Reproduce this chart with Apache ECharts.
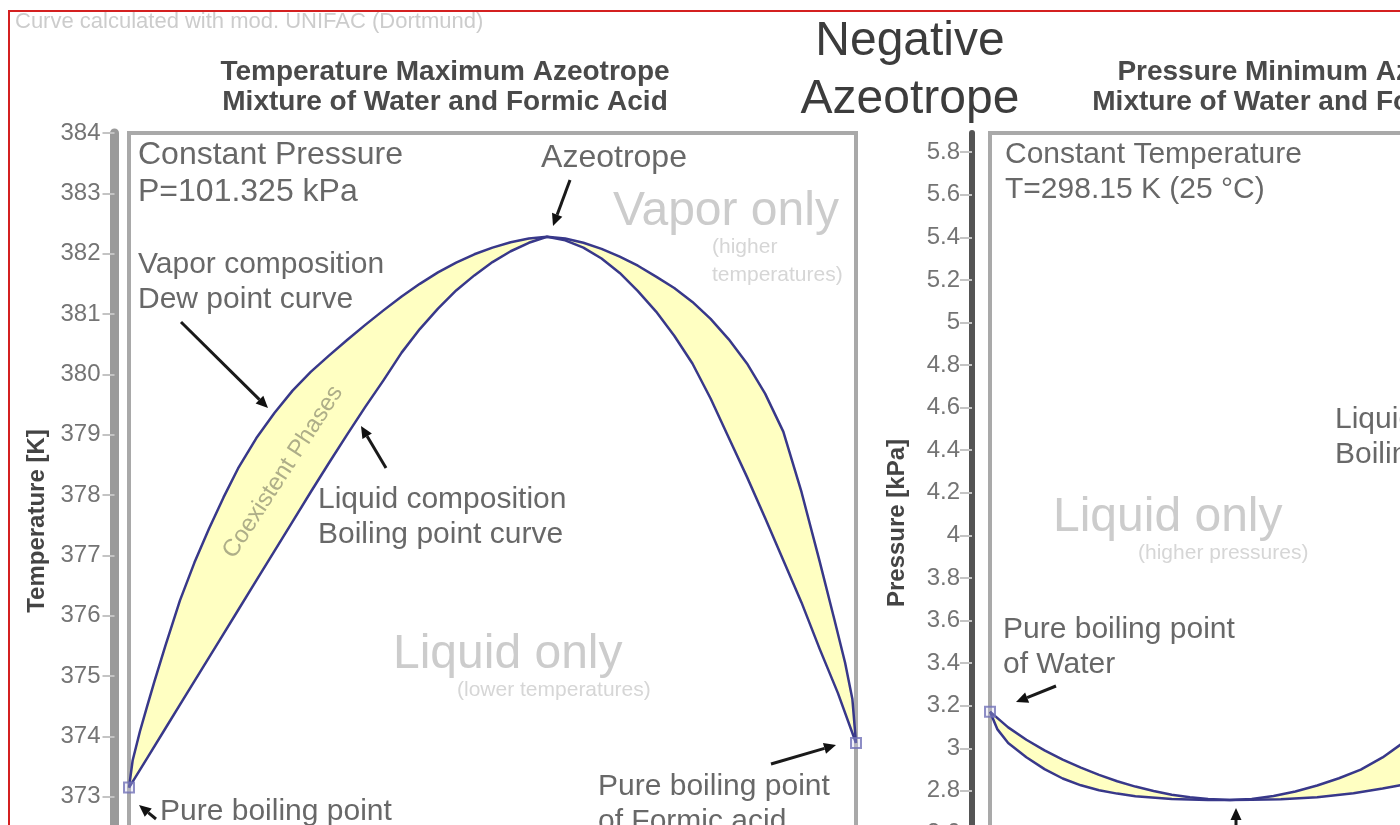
<!DOCTYPE html>
<html>
<head>
<meta charset="utf-8">
<title>Negative Azeotrope</title>
<script src="https://cdn.jsdelivr.net/npm/echarts@6/dist/echarts.min.js"></script>
<style>
  html, body { margin: 0; padding: 0; overflow: hidden; background: #ffffff; }
  #chart { width: 1800px; height: 960px; }
</style>
</head>
<body>
<div id="chart"></div>
<script>
// ---- Data -------------------------------------------------------------
// x = mole fraction of formic acid in the mixture

// Constant pressure (101.325 kPa): temperature in K
const tDewCurve = [
  [0, 373.15], [0.005, 373.60], [0.015, 374.08], [0.025, 374.50], [0.035, 374.91],
  [0.05, 375.50], [0.07, 376.25], [0.09, 376.88], [0.11, 377.44], [0.13, 377.96],
  [0.15, 378.44], [0.175, 378.94], [0.2, 379.36], [0.225, 379.73], [0.25, 380.04],
  [0.275, 380.31], [0.3, 380.57], [0.325, 380.82], [0.35, 381.06], [0.375, 381.29],
  [0.4, 381.50], [0.425, 381.69], [0.45, 381.85], [0.475, 381.99], [0.5, 382.10],
  [0.525, 382.19], [0.55, 382.25], [0.575, 382.28], [0.6, 382.25], [0.625, 382.18],
  [0.65, 382.08], [0.675, 381.95], [0.7, 381.80], [0.725, 381.62], [0.75, 381.43],
  [0.775, 381.20], [0.8, 380.92], [0.825, 380.58], [0.85, 380.18], [0.875, 379.68],
  [0.9, 379.05], [0.925, 378.05], [0.95, 376.90], [0.97, 375.95], [0.985, 375.22],
  [0.995, 374.62], [1, 373.89]
];
const tBubbleCurve = [
  [0, 373.15], [0.025, 373.64], [0.05, 374.13], [0.075, 374.62], [0.1, 375.11],
  [0.125, 375.60], [0.15, 376.09], [0.175, 376.58], [0.2, 377.07], [0.225, 377.56],
  [0.25, 378.05], [0.275, 378.53], [0.3, 379.00], [0.325, 379.46], [0.35, 379.90],
  [0.375, 380.36], [0.4, 380.75], [0.425, 381.09], [0.45, 381.39], [0.475, 381.64],
  [0.5, 381.86], [0.525, 382.04], [0.55, 382.18], [0.575, 382.28], [0.6, 382.22],
  [0.625, 382.10], [0.65, 381.92], [0.675, 381.68], [0.7, 381.38], [0.725, 381.04],
  [0.75, 380.64], [0.775, 380.18], [0.8, 379.60], [0.825, 378.95], [0.85, 378.30],
  [0.875, 377.62], [0.9, 376.92], [0.925, 376.22], [0.95, 375.45], [0.975, 374.72],
  [1, 373.89]
];

// Constant temperature (298.15 K): pressure in kPa
const pBubbleCurve = [
  [0, 3.172], [0.025, 3.098], [0.05, 3.040], [0.075, 2.990], [0.1, 2.947],
  [0.125, 2.909], [0.15, 2.875], [0.175, 2.845], [0.2, 2.820], [0.225, 2.799],
  [0.25, 2.782], [0.275, 2.770], [0.3, 2.762], [0.33, 2.757], [0.36, 2.762],
  [0.39, 2.776], [0.42, 2.797], [0.45, 2.825], [0.48, 2.859], [0.51, 2.900],
  [0.54, 2.957], [0.57, 3.030], [0.6, 3.11], [0.65, 3.28], [0.7, 3.48],
  [0.75, 3.72], [0.8, 4.00], [0.85, 4.32], [0.9, 4.70], [0.95, 5.15], [1, 5.70]
];
const pDewCurve = [
  [0, 3.172], [0.01, 3.090], [0.025, 3.025], [0.05, 2.958], [0.075, 2.902],
  [0.1, 2.858], [0.125, 2.826], [0.15, 2.803], [0.175, 2.787], [0.2, 2.775],
  [0.25, 2.762], [0.3, 2.757], [0.33, 2.757], [0.36, 2.758], [0.4, 2.761],
  [0.45, 2.770], [0.5, 2.789], [0.54, 2.811], [0.57, 2.830], [0.6, 2.850],
  [0.65, 2.900], [0.7, 2.970], [0.75, 3.070], [0.8, 3.220], [0.85, 3.450],
  [0.9, 3.820], [0.95, 4.450], [1, 5.700]
];

// Axis ranges
const tAxisRange = [372, 384, 1];      // min, max, tick step (K)
const pAxisRange = [2.4, 5.89, 0.2];   // min, max, tick step (kPa)
const xAxisRange = [0, 1, 0.1];

// ---- Styling ----------------------------------------------------------
const FONT = '"Liberation Sans", Arial, Helvetica, sans-serif';
const CURVE = '#38388a';
const BAND = '#ffffc2';
const NOTE = '#686868';
const FAINT = '#cccccc';
const FAINTER = '#d6d6d6';

function txt(x, y, text, size, fill, extra) {
  const e = extra || {};
  return {
    type: 'text', x: x, y: y, rotation: e.rotation || 0, z: e.z || 50, silent: true,
    style: {
      text: text, fontSize: size, fontFamily: FONT, fontWeight: e.weight || 'normal',
      fill: fill, align: e.align || 'left', verticalAlign: 'middle'
    }
  };
}

function arrow(x1, y1, x2, y2) {
  const a = Math.atan2(y2 - y1, x2 - x1), L = 12, W = 5.5;
  const bx = x2 - L * Math.cos(a), by = y2 - L * Math.sin(a);
  return [
    { type: 'line', z: 60, silent: true, shape: { x1: x1, y1: y1, x2: bx, y2: by },
      style: { stroke: '#1a1a1a', lineWidth: 3 } },
    { type: 'polygon', z: 60, silent: true,
      shape: { points: [[x2, y2], [bx + W * Math.sin(a), by - W * Math.cos(a)], [bx - W * Math.sin(a), by + W * Math.cos(a)]] },
      style: { fill: '#111111' } }
  ];
}

function band(upper, lower, idx) {
  return {
    type: 'custom', xAxisIndex: idx, yAxisIndex: idx, z: 1, silent: true,
    data: [upper[0]],
    renderItem: function (params, api) {
      const pts = upper.map(function (p) { return api.coord(p); })
        .concat(lower.slice().reverse().map(function (p) { return api.coord(p); }));
      return { type: 'polygon', shape: { points: pts }, style: { fill: BAND, stroke: null } };
    }
  };
}

function curve(data, idx) {
  return {
    type: 'line', xAxisIndex: idx, yAxisIndex: idx, data: data, showSymbol: false,
    smooth: false, silent: true, z: 3,
    lineStyle: { color: CURVE, width: 2.5, join: 'round' }
  };
}

function endpoints(points, idx) {
  return {
    type: 'scatter', xAxisIndex: idx, yAxisIndex: idx, data: points, symbol: 'rect',
    symbolSize: 10, silent: true, z: 4,
    itemStyle: { color: 'rgba(210,210,240,0.35)', borderColor: '#7272b8', borderWidth: 2 }
  };
}

function yAxis(idx, range, offset, lineColor, lineWidth, margin) {
  return {
    type: 'value', gridIndex: idx, min: range[0], max: range[1], interval: range[2],
    offset: offset,
    axisLine: { show: true, onZero: false, lineStyle: { color: lineColor, width: lineWidth } },
    axisTick: { show: true, length: 12, lineStyle: { color: '#c4c4c4', width: 2 } },
    axisLabel: { margin: margin, fontSize: 24, color: '#747474', fontFamily: FONT, showMaxLabel: idx === 0 },
    splitLine: { show: false }
  };
}

function xAxis(idx) {
  return {
    type: 'value', gridIndex: idx, min: xAxisRange[0], max: xAxisRange[1], interval: xAxisRange[2],
    axisLine: { show: true, onZero: false, lineStyle: { color: '#999999', width: 8 } },
    axisTick: { show: true, lineStyle: { color: '#c4c4c4' } },
    axisLabel: { fontSize: 24, color: '#747474', fontFamily: FONT },
    splitLine: { show: false }
  };
}

// ---- Annotations --------------------------------------------------------
const graphics = [
  txt(15, 22, 'Curve calculated with mod. UNIFAC (Dortmund)', 22, FAINT),
  txt(910, 42, 'Negative', 48, '#3c3c3c', { align: 'center' }),
  txt(910, 100, 'Azeotrope', 48, '#3c3c3c', { align: 'center' }),
  txt(445, 72, 'Temperature Maximum Azeotrope', 28, '#4a4a4a', { align: 'center', weight: 'bold' }),
  txt(445, 102, 'Mixture of Water and Formic Acid', 28, '#4a4a4a', { align: 'center', weight: 'bold' }),
  txt(1315, 72, 'Pressure Minimum Azeotrope', 28, '#4a4a4a', { align: 'center', weight: 'bold' }),
  txt(1315, 102, 'Mixture of Water and Formic Acid', 28, '#4a4a4a', { align: 'center', weight: 'bold' }),
  txt(37, 521, 'Temperature [K]', 24, '#444444', { align: 'center', weight: 'bold', rotation: Math.PI / 2 }),
  txt(897, 523, 'Pressure [kPa]', 24, '#444444', { align: 'center', weight: 'bold', rotation: Math.PI / 2 }),

  // temperature diagram
  txt(138, 155, 'Constant Pressure', 32, NOTE),
  txt(138, 192, 'P=101.325 kPa', 32, NOTE),
  txt(138, 265, 'Vapor composition', 30, NOTE),
  txt(138, 300, 'Dew point curve', 30, NOTE),
  txt(614, 158, 'Azeotrope', 32, NOTE, { align: 'center' }),
  txt(613, 212, 'Vapor only', 48, FAINT),
  txt(712, 247, '(higher', 21, FAINTER),
  txt(712, 275, 'temperatures)', 21, FAINTER),
  txt(318, 500, 'Liquid composition', 30, NOTE),
  txt(318, 535, 'Boiling point curve', 30, NOTE),
  txt(393, 655, 'Liquid only', 48, FAINT),
  txt(457, 690, '(lower temperatures)', 21, FAINTER),
  txt(160, 812, 'Pure boiling point', 30, NOTE),
  txt(160, 847, 'of Water', 30, NOTE),
  txt(598, 787, 'Pure boiling point', 30, NOTE),
  txt(598, 822, 'of Formic acid', 30, NOTE),
  txt(283, 472, 'Coexistent Phases', 24, '#aeae88', { align: 'center', rotation: 57 * Math.PI / 180, z: 55 }),

  // pressure diagram
  txt(1005, 155, 'Constant Temperature', 30, NOTE),
  txt(1005, 190, 'T=298.15 K (25 °C)', 30, NOTE),
  txt(1335, 420, 'Liquid composition', 30, NOTE),
  txt(1335, 455, 'Boiling point curve', 30, NOTE),
  txt(1053, 518, 'Liquid only', 48, FAINT),
  txt(1138, 553, '(higher pressures)', 21, FAINTER),
  txt(1003, 630, 'Pure boiling point', 30, NOTE),
  txt(1003, 665, 'of Water', 30, NOTE),

  // outer frame
  { type: 'rect', z: 100, silent: true, shape: { x: 9, y: 11, width: 1900, height: 1100 },
    style: { fill: null, stroke: '#d42020', lineWidth: 2 } }
].concat(
  arrow(181, 322, 268, 408),
  arrow(386, 468, 361, 426),
  arrow(570, 180, 553, 226),
  arrow(156, 819, 139, 805),
  arrow(771, 764, 836, 745),
  arrow(1056, 686, 1016, 702),
  arrow(1236, 845, 1236, 808)
);

// ---- Chart ------------------------------------------------------------
const chart = echarts.init(document.getElementById('chart'), null, { renderer: 'canvas' });
chart.setOption({
  animation: false,
  backgroundColor: '#ffffff',
  textStyle: { fontFamily: FONT },
  grid: [
    { left: 129, top: 133, width: 727, height: 724, show: true, borderColor: '#a9a9a9', borderWidth: 4,
      backgroundColor: 'transparent', outerBoundsMode: 'none' },
    { left: 990, top: 133, width: 727, height: 743, show: true, borderColor: '#a9a9a9', borderWidth: 4,
      backgroundColor: 'transparent', outerBoundsMode: 'none' }
  ],
  xAxis: [xAxis(0), xAxis(1)],
  yAxis: [
    yAxis(0, tAxisRange, 14.5, '#9a9a9a', 9, 14),
    yAxis(1, pAxisRange, 18, '#555555', 6, 12)
  ],
  series: [
    band(tDewCurve, tBubbleCurve, 0),
    curve(tDewCurve, 0),
    curve(tBubbleCurve, 0),
    endpoints([tDewCurve[0], tDewCurve[tDewCurve.length - 1]], 0),
    band(pBubbleCurve, pDewCurve, 1),
    curve(pBubbleCurve, 1),
    curve(pDewCurve, 1),
    endpoints([pBubbleCurve[0], pBubbleCurve[pBubbleCurve.length - 1]], 1)
  ],
  graphic: { elements: graphics }
});
</script>
</body>
</html>
